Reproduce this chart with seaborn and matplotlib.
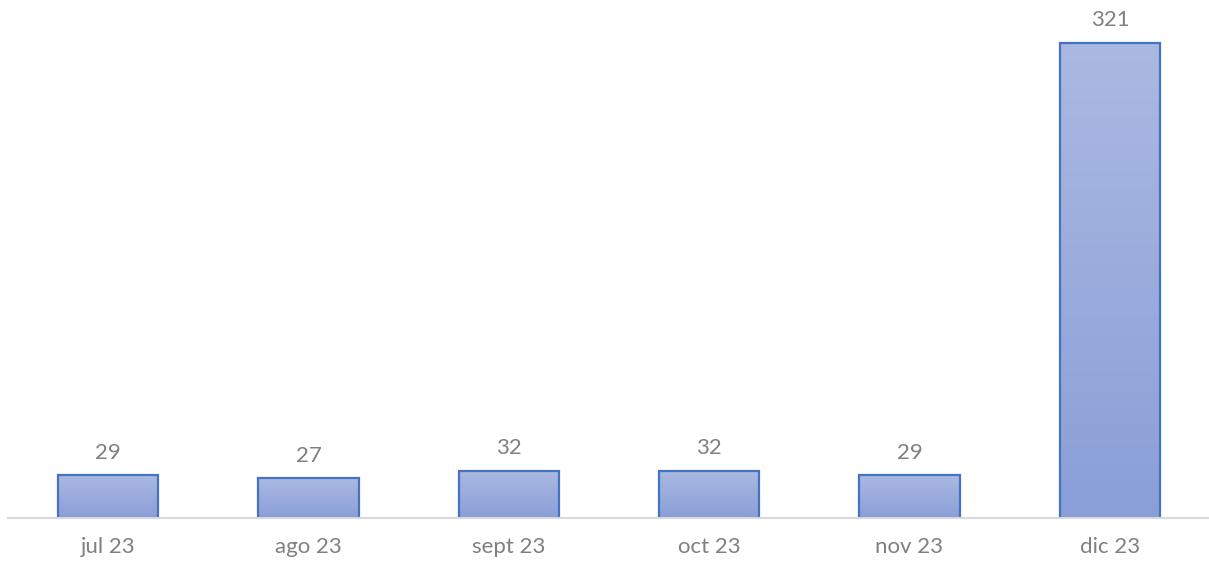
import numpy as np
import pandas as pd
import matplotlib
matplotlib.use("Agg")
import matplotlib.pyplot as plt
import seaborn as sns
from matplotlib.colors import LinearSegmentedColormap

# data
months = ["jul 23", "ago 23", "sept 23", "oct 23", "nov 23", "dic 23"]
counts = [29, 27, 32, 32, 29, 321]

df = pd.DataFrame({"mes": months, "n": counts})

sns.set_theme(style="white")
plt.rcParams["font.family"] = ["Lato", "DejaVu Sans"]

fig = plt.figure(figsize=(12.09, 5.66), dpi=100)
ax = fig.add_axes([8 / 1209, 48 / 566, 1202 / 1209, 518 / 566])

sns.barplot(data=df, x="mes", y="n", ax=ax, width=0.5, color="#98aadb",
            edgecolor="#4472C4", linewidth=1.6, saturation=1)

# vertical gradient in each bar (light top, darker bottom)
cmap = LinearSegmentedColormap.from_list("grad", ["#8a9fd8", "#abb9e1"])
grad = np.linspace(0, 1, 256).reshape(-1, 1)
for bar in ax.patches:
    x0, y0 = bar.get_x(), bar.get_y()
    w, h = bar.get_width(), bar.get_height()
    im = ax.imshow(grad, cmap=cmap, aspect="auto", origin="lower",
                   extent=[x0, x0 + w, y0, y0 + h], zorder=bar.get_zorder())
    im.set_clip_path(bar)
    bar.set_facecolor("none")
    bar.set_zorder(bar.get_zorder() + 0.5)
ax.set_xlim(-0.5, len(months) - 0.5)
ax.set_ylim(0, 350)

# value labels
for i, v in enumerate(counts):
    ax.annotate(str(v), (i, v), xytext=(0, 9), textcoords="offset points",
                ha="center", va="bottom", fontsize=16, color="#808080")

ax.set_xlabel("")
ax.set_ylabel("")
ax.set_yticks([])
ax.tick_params(axis="x", length=0, pad=14, labelsize=16, labelcolor="#808080")
for s in ["top", "right", "left"]:
    ax.spines[s].set_visible(False)
ax.spines["bottom"].set_color("#d9d9d9")
ax.spines["bottom"].set_linewidth(1.5)

fig.savefig("out.png", dpi=100)
